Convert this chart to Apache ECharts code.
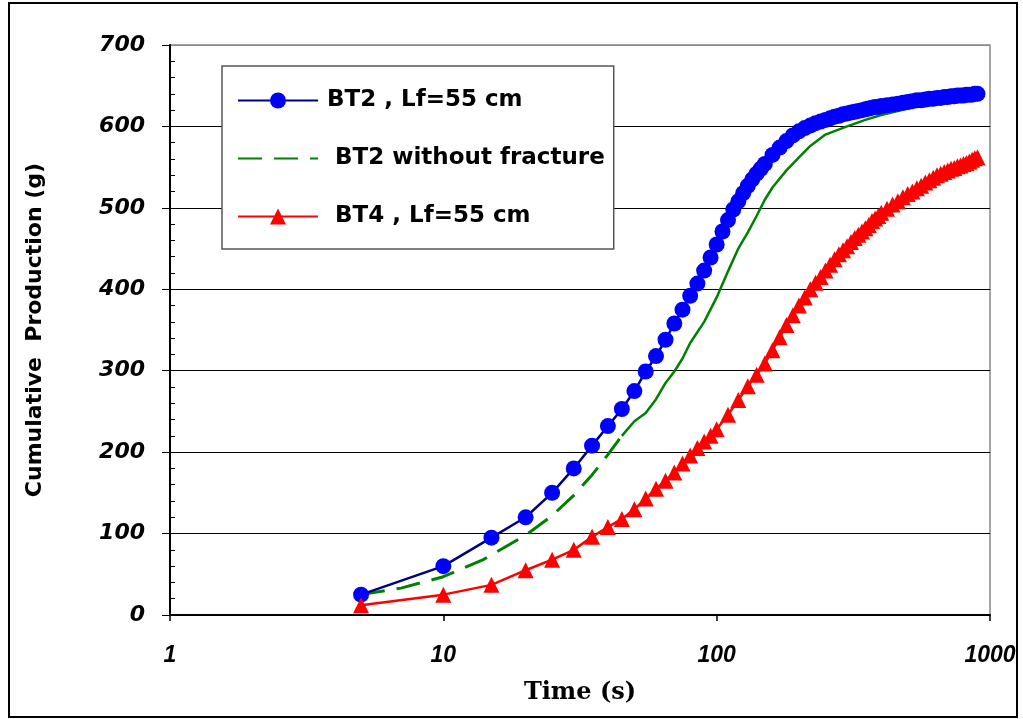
<!DOCTYPE html>
<html>
<head>
<meta charset="utf-8">
<script src="https://cdn.jsdelivr.net/npm/echarts@6/dist/echarts.min.js"></script>
<style>
html,body{margin:0;padding:0;background:#fff;}
#chart{width:1023px;height:719px;}
</style>
</head>
<body>
<div id="chart"></div>
<script>
// ---- data ----
var seriesNames = ['BT2 , Lf=55 cm', ' BT2 without fracture', ' BT4 , Lf=55 cm'];

var bt2Time = [5,10,15,20,25,30,35,40,45,50,55,60,65,70,75,80,85,90,95,
  100,105,110,115,120,125,130,135,140,145,150,
  160,170,180,190,200,210,220,230,240,250,260,270,280,290,300,310,320,330,340,350,360,370,380,390,400,
  420,440,460,480,500,520,540,560,580,600,620,640,660,680,700,720,740,760,780,800,820,840,860,880,900];
var bt2Prod = [25,60,95,120,150,180,208,232,253,275,299,318,338,358,375,392,407,423,439,
  455,471,485,498,508,518,527,535,542,548,554,
  565,574,582,589,594,598,601,604,606,608,610,612,613,615,616,617,618,619,620,621,622,623,624,624,625,
  626,627,628,629,630,631,632,632,633,634,634,635,635,636,636,637,637,638,638,638,639,639,639,640,640];

var noFracTime = [5,7,10,14,20,25,30,35,40,45,50,55,60,65,70,75,80,90,100,
  110,120,130,140,150,160,180,200,220,250,300,350,400,500,600,700,800,900];
var noFracProd = [25,33,47,68,98,122,147,172,197,220,238,248,265,285,299,315,334,360,390,
  422,450,470,490,510,525,546,562,576,590,600,608,614,622,629,634,637,639];

var bt4Time = [5,10,15,20,25,30,35,40,45,50,55,60,65,70,75,80,85,90,95,
  100,110,120,130,140,150,160,170,180,190,200,210,220,230,240,250,260,270,280,290,300,
  310,320,330,340,350,360,370,380,390,400,
  420,440,460,480,500,520,540,560,580,600,620,640,660,680,700,720,740,760,780,800,820,840,860,880,900];
var bt4Prod = [12,25,37,55,68,80,96,108,118,130,143,155,165,175,186,196,205,213,220,
  228,246,264,281,295,309,325,341,356,368,380,390,400,408,415,423,430,437,443,448,453,
  458,463,467,471,475,479,484,487,490,494,
  499,504,508,513,517,520,524,527,531,534,537,540,542,544,546,548,549,551,552,554,555,557,559,561,562];

var yTicks = {min: 0, max: 700, interval: 100};
var xTicks = {min: 1, max: 1000};
var dashedUpTo = 9; // index in noFrac arrays where the dashed part ends

function pairs(xs, ys){ return xs.map(function(x,i){ return [x, ys[i]]; }); }

var chart = echarts.init(document.getElementById('chart'), null, {renderer:'canvas'});
var sans = 'Liberation Sans, Arial, Helvetica, sans-serif';
var wide = 'DejaVu Sans, Verdana, sans-serif';
var serif = 'DejaVu Serif, Liberation Serif, serif';

var yAxisBase = {
  type: 'value', min: yTicks.min, max: yTicks.max, interval: yTicks.interval
};

chart.setOption({
  animation: false,
  backgroundColor: '#fff',
  graphic: [{
    type: 'rect', z: -10, silent: true,
    shape: {x: 9, y: 3, width: 1008, height: 714},
    style: {fill: 'none', stroke: '#000', lineWidth: 2}
  }],
  grid: {left: 170, right: 33, top: 45, bottom: 104, show: true,
         borderColor: '#888', borderWidth: 1.5, backgroundColor: 'transparent'},
  legend: {
    orient: 'vertical', left: 222, top: 66,
    backgroundColor: '#fff', borderColor: '#555', borderWidth: 1.5,
    padding: [23, 9, 21, 15], itemGap: 35, itemWidth: 80, itemHeight: 20,
    textStyle: {fontFamily: wide, fontWeight: 'bold', fontSize: 23, lineHeight: 20, color: '#000', padding: [0,0,0,4]},
    data: [
      {name: seriesNames[0]},
      {name: seriesNames[1], itemStyle: {opacity: 0}},
      {name: seriesNames[2]}
    ]
  },
  xAxis: {
    type: 'log', logBase: 10, min: xTicks.min, max: xTicks.max,
    name: 'Time (s)', nameLocation: 'middle', nameGap: 66,
    nameTextStyle: {fontFamily: serif, fontWeight: 'bold', fontSize: 24, color: '#000'},
    axisLine: {lineStyle: {color: '#000', width: 2}},
    axisTick: {inside: false, length: 6, lineStyle: {color: '#000', width: 1.5}},
    axisLabel: {fontFamily: sans, fontWeight: 'bold', fontStyle: 'italic', fontSize: 23, color: '#000', margin: 29,
      formatter: function(v){ return String(v); }},
    splitLine: {show: false}
  },
  yAxis: [
    Object.assign({}, yAxisBase, {
      name: 'Cumulative  Production (g)', nameLocation: 'middle', nameGap: 124,
      nameTextStyle: {fontFamily: wide, fontWeight: 'bold', fontSize: 22, color: '#000'},
      axisLine: {show: true, lineStyle: {color: '#000', width: 2}},
      axisTick: {show: true, length: 8, lineStyle: {color: '#000', width: 1}},
      axisLabel: {fontFamily: wide, fontWeight: 'bold', fontStyle: 'italic', fontSize: 22, color: '#000', margin: 25},
      splitLine: {show: true, lineStyle: {color: ['#000','#000','#000','#000','#000','#000','#000','#888'], width: 1}}
    }),
    Object.assign({}, yAxisBase, {
      position: 'left',
      axisLine: {show: false},
      axisTick: {show: true, inside: true, length: 0, lineStyle: {width: 0}},
      minorTick: {show: true, splitNumber: 5, length: 5, lineStyle: {color: '#000', width: 1}},
      axisLabel: {show: false},
      splitLine: {show: false}
    })
  ],
  series: [
    {
      name: seriesNames[0], type: 'line', z: 3,
      data: pairs(bt2Time, bt2Prod),
      symbol: 'circle', symbolSize: 16, showSymbol: true,
      itemStyle: {color: '#0000FF'},
      lineStyle: {color: '#000080', width: 2.5}
    },
    {
      name: seriesNames[1], type: 'line', z: 2,
      data: pairs(noFracTime.slice(0, dashedUpTo + 1), noFracProd.slice(0, dashedUpTo + 1)),
      symbol: 'none',
      itemStyle: {color: '#008000'},
      lineStyle: {color: '#008000', width: 3, type: [24, 12]}
    },
    {
      name: seriesNames[1], type: 'line', z: 2,
      data: pairs(noFracTime.slice(dashedUpTo), noFracProd.slice(dashedUpTo)),
      symbol: 'none',
      itemStyle: {color: '#008000'},
      lineStyle: {color: '#008000', width: 2.5}
    },
    {
      name: seriesNames[2], type: 'line', z: 3,
      data: pairs(bt4Time, bt4Prod),
      symbol: 'triangle', symbolSize: 16, showSymbol: true,
      itemStyle: {color: '#FF0000'},
      lineStyle: {color: '#FF0000', width: 2.5}
    }
  ]
});
</script>
</body>
</html>
